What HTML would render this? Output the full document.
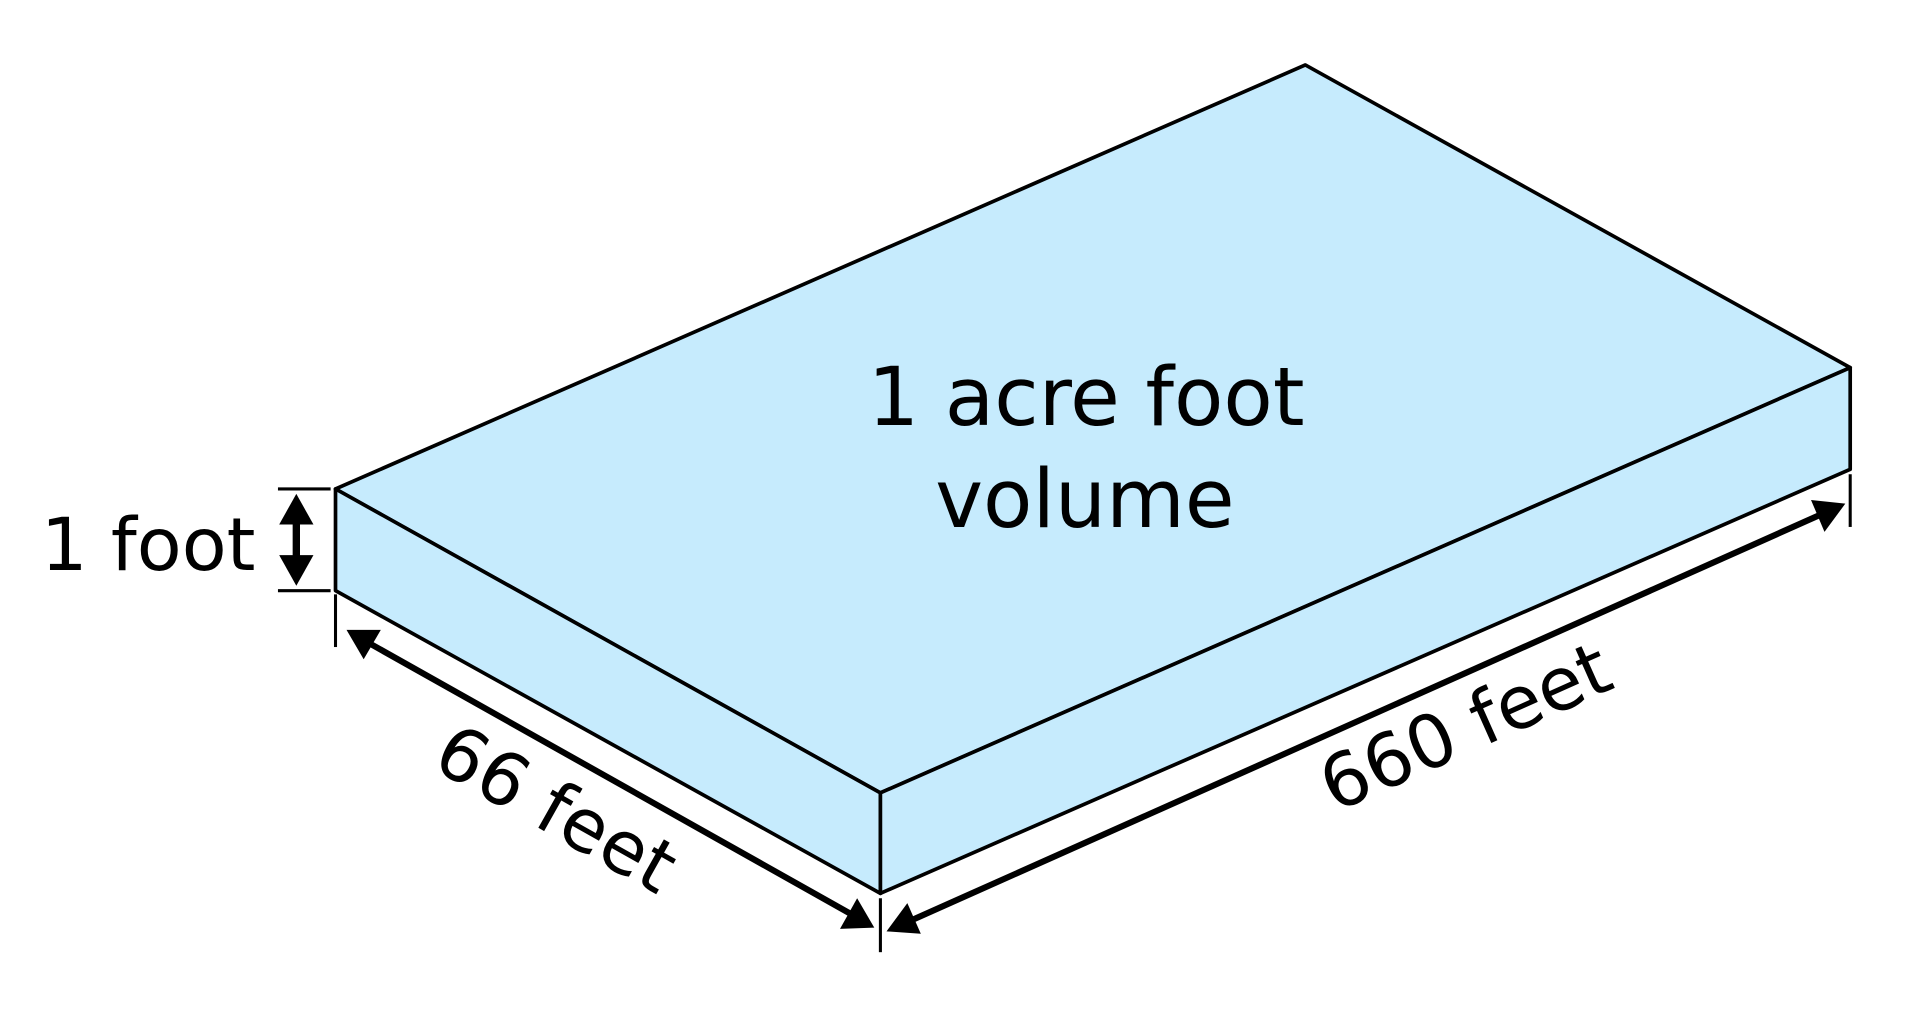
<!DOCTYPE html>
<html><head><meta charset="utf-8"><style>
html,body{margin:0;padding:0;background:#fff;width:1920px;height:1011px;overflow:hidden}
svg{display:block}
text{font-family:"DejaVu Sans","Liberation Sans",sans-serif;fill:#000}
</style></head><body>
<svg width="1920" height="1011" viewBox="0 0 1568 825" preserveAspectRatio="none">
<g stroke="#000" stroke-width="3" stroke-linejoin="round" fill="#c6ebfd">
<polygon points="274,399 1066,53 1511,300 719,647"/>
<polygon points="274,399 719,647 719,729 274,482"/>
<polygon points="719,647 1511,300 1511,383 719,729"/>
</g>
<g stroke="#000" stroke-width="2.5">
<line x1="227" y1="399" x2="270" y2="399"/>
<line x1="227" y1="482" x2="270" y2="482"/>
<line x1="274" y1="485" x2="274" y2="528"/>
<line x1="719" y1="733" x2="719" y2="777"/>
<line x1="1511" y1="387" x2="1511" y2="430"/>
</g>
<g>
<line x1="242" y1="420" x2="242" y2="460" stroke="#000" stroke-width="6"/>
<polygon points="242,403 228,428 256,428" fill="#000"/>
<polygon points="242,478 228,453 256,453" fill="#000"/>
</g>
<g>
<line x1="300" y1="524" x2="697" y2="747" stroke="#000" stroke-width="5"/>
<polygon points="283,514 311,514 297,538" fill="#000"/>
<polygon points="714,757 686,758 700,733" fill="#000"/>
</g>
<g>
<line x1="742" y1="752" x2="1489" y2="419" stroke="#000" stroke-width="5"/>
<polygon points="724,760 741,737 752,762" fill="#000"/>
<polygon points="1507,411 1479,408 1490,434" fill="#000"/>
</g>
<text x="887" y="347" font-size="66" text-anchor="middle">1 acre foot</text>
<text x="886" y="430" font-size="66" text-anchor="middle">volume</text>
<text x="121" y="465" font-size="60" text-anchor="middle">1 foot</text>
<text font-size="60" text-anchor="middle" transform="translate(444,678) rotate(29.4)">66 feet</text>
<text font-size="60" text-anchor="middle" transform="translate(1205,612) rotate(-24)">660 feet</text>
</svg>
</body></html>
